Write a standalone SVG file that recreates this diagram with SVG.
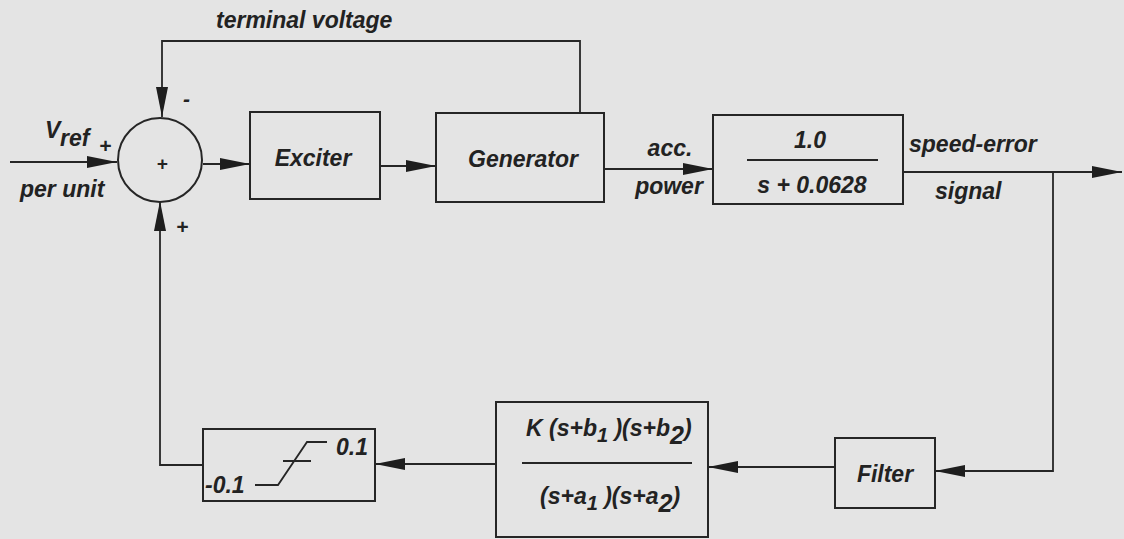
<svg xmlns="http://www.w3.org/2000/svg" width="1124" height="539" viewBox="0 0 1124 539">
<defs>
<style>
.bg{fill:#e4e4e4}
.box{fill:none;stroke:#262626;stroke-width:2}
.ln{fill:none;stroke:#262626;stroke-width:1.8}
.t{font-family:"Liberation Sans",Arial,sans-serif;font-style:italic;font-weight:bold;fill:#222;font-size:23px}
</style>
<marker id="ah" markerWidth="30" markerHeight="12" refX="30" refY="6" orient="auto" markerUnits="userSpaceOnUse">
<path d="M0,0 L30,6 L0,12 Z" fill="#1e1e1e"/>
</marker>
</defs>
<rect class="bg" x="0" y="0" width="1124" height="539"/>
<g id="connectors">
<path class="ln" d="M10,162 L117,162" marker-end="url(#ah)"/>
<path class="ln" d="M203,164 L250,164" marker-end="url(#ah)"/>
<path class="ln" d="M380,166 L436,166" marker-end="url(#ah)"/>
<path class="ln" d="M580,113 L580,41 L162,41 L162,117" marker-end="url(#ah)"/>
<path class="ln" d="M604,169 L713,169" marker-end="url(#ah)"/>
<path class="ln" d="M903,172 L1122,172" marker-end="url(#ah)"/>
<path class="ln" d="M1053,172 L1053,471 L935,471" marker-end="url(#ah)"/>
<path class="ln" d="M835,467 L708,467" marker-end="url(#ah)"/>
<path class="ln" d="M496,464 L375,464" marker-end="url(#ah)"/>
<path class="ln" d="M203,465 L160,465 L160,201" marker-end="url(#ah)"/>
</g>
<g id="sum">
<circle class="box" cx="160" cy="160" r="42"/>
<text class="t" x="162" y="170" text-anchor="middle" style="font-size:19px">+</text>
<text class="t" x="99" y="153" style="font-size:21px">+</text>
<text class="t" x="183" y="106" style="font-size:21px">-</text>
<text class="t" x="176" y="234" style="font-size:21px">+</text>
</g>
<g id="vref">
<text class="t" x="45" y="138">V<tspan dy="8">ref</tspan></text>
<text class="t" x="20" y="197">per unit</text>
</g>
<g id="terminal-label"><text class="t" x="216" y="28">terminal voltage</text></g>
<g id="exciter">
<rect class="box" x="250" y="112" width="130" height="87"/>
<text class="t" x="313" y="166" text-anchor="middle">Exciter</text>
</g>
<g id="generator">
<rect class="box" x="436" y="113" width="168" height="89"/>
<text class="t" x="523" y="167" text-anchor="middle">Generator</text>
</g>
<g id="acc-label">
<text class="t" x="670" y="156" text-anchor="middle">acc.</text>
<text class="t" x="669" y="194" text-anchor="middle">power</text>
</g>
<g id="inertia">
<rect class="box" x="713" y="115" width="190" height="89"/>
<line class="ln" x1="747" y1="160" x2="878" y2="160"/>
<text class="t" x="810" y="148" text-anchor="middle">1.0</text>
<text class="t" x="812" y="193" text-anchor="middle">s + 0.0628</text>
</g>
<g id="speed-label">
<text class="t" x="909" y="152">speed-error</text>
<text class="t" x="935" y="199">signal</text>
</g>
<g id="filter">
<rect class="box" x="835" y="438" width="100" height="70"/>
<text class="t" x="885" y="482" text-anchor="middle">Filter</text>
</g>
<g id="compensator">
<rect class="box" x="496" y="402" width="212" height="135"/>
<line class="ln" x1="522" y1="463" x2="692" y2="463"/>
<text class="t" x="526" y="436">K (s+b<tspan dy="6" style="font-size:20px">1</tspan><tspan dy="-6"> )(s+b</tspan><tspan dy="8" style="font-size:25px">2</tspan><tspan dy="-8">)</tspan></text>
<text class="t" x="540" y="504">(s+a<tspan dy="6" style="font-size:20px">1</tspan><tspan dy="-6"> )(s+a</tspan><tspan dy="8" style="font-size:25px">2</tspan><tspan dy="-8">)</tspan></text>
</g>
<g id="limiter">
<rect class="box" x="203" y="429" width="172" height="72"/>
<path class="ln" d="M255,485 L278,485 L307,442 L327,442 M283,461 L311,461"/>
<text class="t" x="336" y="455">0.1</text>
<text class="t" x="205" y="493">-0.1</text>
</g>
</svg>
